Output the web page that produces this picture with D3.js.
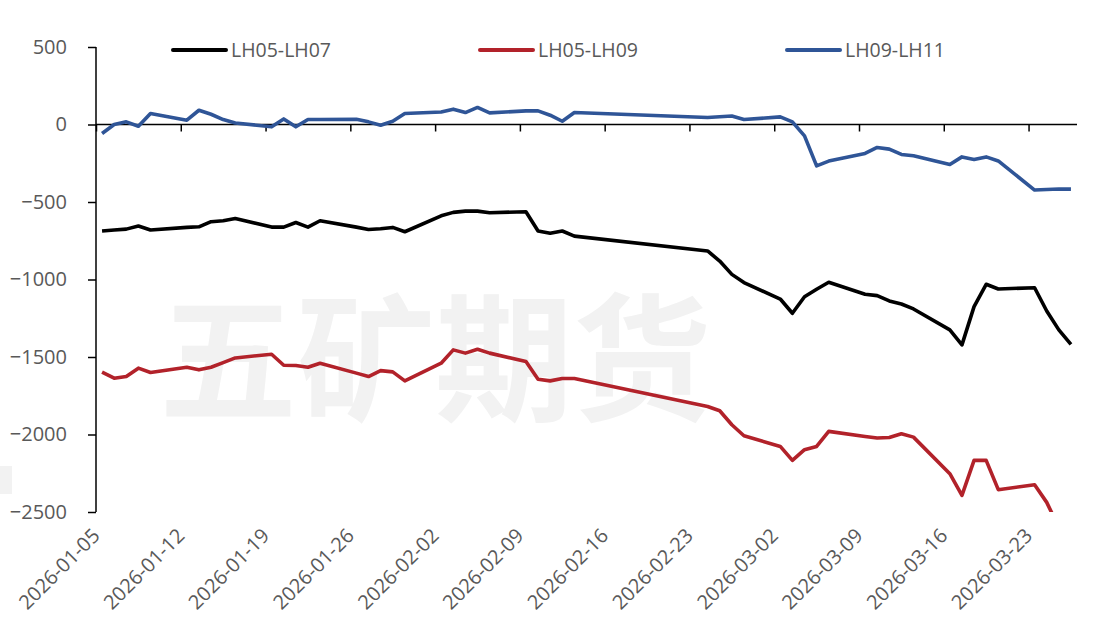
<!DOCTYPE html>
<html lang="zh">
<head>
<meta charset="UTF-8">
<title>LH spreads</title>
<script src="https://d3js.org/d3.v7.min.js"></script>
<style>
  body { margin: 0; background: #fff; }
  .axis text { font-family: "Open Sans", "Noto Sans", sans-serif; font-size: 20px; fill: #595959; }
  .legend text { font-family: "Open Sans", "Noto Sans", sans-serif; font-size: 19.5px; fill: #595959; }
  .series { fill: none; stroke-width: 3.6px; stroke-linejoin: round; }
</style>
</head>
<body>
<svg id="chart" width="1099" height="629"></svg>
<script>
const dates = [
  "2026-01-05","2026-01-06","2026-01-07","2026-01-08","2026-01-09",
  "2026-01-12","2026-01-13","2026-01-14","2026-01-15","2026-01-16",
  "2026-01-19","2026-01-20","2026-01-21","2026-01-22","2026-01-23",
  "2026-01-26","2026-01-27","2026-01-28","2026-01-29","2026-01-30",
  "2026-02-02","2026-02-03","2026-02-04","2026-02-05","2026-02-06",
  "2026-02-09","2026-02-10","2026-02-11","2026-02-12","2026-02-13",
  "2026-02-24","2026-02-25","2026-02-26","2026-02-27",
  "2026-03-02","2026-03-03","2026-03-04","2026-03-05","2026-03-06",
  "2026-03-09","2026-03-10","2026-03-11","2026-03-12","2026-03-13",
  "2026-03-16","2026-03-17","2026-03-18","2026-03-19","2026-03-20",
  "2026-03-23","2026-03-24","2026-03-25","2026-03-26"
];

const lh05_07 = [
  -687, -681, -675, -655, -681,
  -664, -660, -627, -621, -606,
  -662, -662, -632, -662, -621,
  -662, -677, -673, -664, -692,
  -589, -567, -559, -559, -569,
  -563, -687, -702, -687, -720,
  -816, -881, -967, -1020,
  -1126, -1218, -1111, -1063, -1018,
  -1095, -1104, -1138, -1158, -1190,
  -1325, -1422, -1175, -1031, -1061,
  -1053, -1203, -1325, -1418
];

const lh05_09 = [
  -1598, -1637, -1626, -1572, -1600,
  -1566, -1583, -1566, -1536, -1506,
  -1482, -1553, -1555, -1566, -1540,
  -1604, -1626, -1588, -1596, -1654,
  -1540, -1454, -1475, -1450, -1475,
  -1529, -1643, -1654, -1639, -1639,
  -1819, -1847, -1937, -2008,
  -2077, -2167, -2098, -2077, -1980,
  -2013, -2023, -2019, -1995, -2017,
  -2253, -2393, -2167, -2167, -2356,
  -2324, -2438, -2600, -2700
];

const lh09_11 = [
  -58, 0, 17, -11, 71,
  28, 92, 66, 32, 10,
  -15, 36, -15, 32, 32,
  34, 17, -5, 21, 71,
  81, 99, 77, 110, 75,
  88, 88, 60, 21, 77,
  45, 50, 55, 32,
  49, 17, -73, -267, -236,
  -187, -148, -159, -193, -202,
  -258, -209, -226, -209, -235,
  -423, -419, -416, -417
];

const yTicks = [500, 0, -500, -1000, -1500, -2000, -2500];
const axisStart = "2026-01-05";
const axisEnd = "2026-03-27";

const series = [
  { name: "LH05-LH07", values: lh05_07, color: "#000000" },
  { name: "LH05-LH09", values: lh05_09, color: "#B2222A" },
  { name: "LH09-LH11", values: lh09_11, color: "#2F5597" }
];

const parse = d3.timeParse("%Y-%m-%d");
const fmt = d3.timeFormat("%Y-%m-%d");
const svg = d3.select("#chart");

const plotL = 96, plotR = 1077, plotT = 47, plotB = 512;

const x = d3.scaleTime()
  .domain([parse(axisStart), parse(axisEnd)])
  .range([plotL, plotR]);

const y = d3.scaleLinear()
  .domain([-2500, 500])
  .range([plotB, plotT]);

// watermark
svg.append("text")
  .attr("x", 435)
  .attr("y", 410)
  .attr("text-anchor", "middle")
  .attr("font-family", "Noto Sans CJK SC")
  .attr("font-weight", "bold")
  .attr("font-size", 138)
  .attr("fill", "#f2f2f2")
  .text("五矿期货");

svg.append("rect")
  .attr("x", 0).attr("y", 466)
  .attr("width", 12).attr("height", 28)
  .attr("fill", "#f2f2f2");

// y axis
const yAxis = svg.append("g")
  .attr("class", "axis")
  .attr("transform", `translate(${plotL},0)`)
  .call(d3.axisLeft(y).tickValues(yTicks).tickSize(8).tickPadding(21).tickFormat(d3.format("d")));
yAxis.select(".domain").attr("stroke", "#000").attr("stroke-width", 1.5).attr("d", `M0,${plotT}V${plotB}`);
yAxis.selectAll(".tick line").attr("stroke", "#000").attr("stroke-width", 1.5);

// x axis line at zero, weekly ticks
const weekTicks = d3.timeDay.range(parse(axisStart), parse("2026-03-24"), 7);
const xAxis = svg.append("g")
  .attr("class", "axis")
  .attr("transform", `translate(0,${y(0)})`)
  .call(d3.axisBottom(x).tickValues(weekTicks).tickSize(7).tickFormat(""));
xAxis.select(".domain").attr("stroke", "#000").attr("stroke-width", 1.5).attr("d", `M${plotL},0H${plotR}`);
xAxis.selectAll(".tick line").attr("stroke", "#000").attr("stroke-width", 1.5);

// x labels at the bottom
svg.append("g")
  .attr("class", "axis")
  .selectAll("text")
  .data(weekTicks)
  .join("text")
  .attr("text-anchor", "end")
  .attr("transform", d => `translate(${x(d) + 5},${plotB + 25}) rotate(-45)`)
  .text(d => fmt(d));

// clip
svg.append("clipPath").attr("id", "plot")
  .append("rect")
  .attr("x", plotL).attr("y", plotT - 10)
  .attr("width", plotR - plotL + 5).attr("height", plotB - plotT + 10);

const line = d3.line()
  .x(d => x(d3.timeHour.offset(parse(d.date), 12)))
  .y(d => y(d.value));

const plot = svg.append("g").attr("clip-path", "url(#plot)");
series.forEach(s => {
  const pts = dates.map((dt, i) => ({ date: dt, value: s.values[i] }));
  plot.append("path")
    .attr("class", "series")
    .attr("stroke", s.color)
    .attr("d", line(pts));
});

// legend
const legendX = [173, 480, 787];
const legend = svg.append("g").attr("class", "legend");
series.forEach((s, i) => {
  const g = legend.append("g").attr("transform", `translate(${legendX[i]},50)`);
  g.append("line")
    .attr("x1", 0).attr("x2", 53)
    .attr("stroke", s.color)
    .attr("stroke-width", 4)
    .attr("stroke-linecap", "round");
  g.append("text")
    .attr("x", 58)
    .attr("dy", "0.35em")
    .text(s.name);
});
</script>
</body>
</html>
